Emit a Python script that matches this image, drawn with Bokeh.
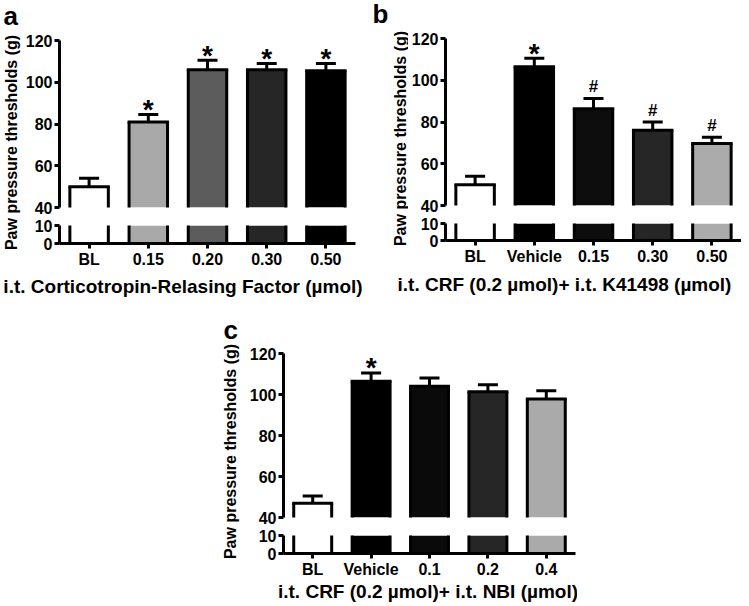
import math
from bokeh.plotting import figure
from bokeh.models import (ColumnDataSource, FactorRange, Range1d, FixedTicker,
                          Whisker, TeeHead, Label, Spacer)
from bokeh.layouts import row, column
from bokeh.transform import dodge
from bokeh.core.properties import value
from bokeh.embed import file_html
from bokeh.resources import INLINE

FONT = "Liberation Sans"

# ---------------- data ----------------
cats_a = ["BL", "0.15", "0.20", "0.30", "0.50"]
vals_a = [50, 81, 106, 106, 105.5]
errs_a = [4, 3.5, 4.5, 3, 3.5]
marks_a = ["", "*", "*", "*", "*"]
colors_a = ["#ffffff", "#a9a9a9", "#5c5c5c", "#262626", "#000000"]
xtitle_a = "i.t. Corticotropin-Relasing Factor (µmol)"

cats_b = ["BL", "Vehicle", "0.15", "0.30", "0.50"]
vals_b = [50, 106.5, 86.3, 76, 69.7]
errs_b = [4, 4, 5, 4, 3]
marks_b = ["", "*", "#", "#", "#"]
colors_b = ["#ffffff", "#000000", "#0d0d0d", "#262626", "#ababab"]
xtitle_b = "i.t. CRF (0.2 µmol)+ i.t. K41498 (µmol)"

cats_c = ["BL", "Vehicle", "0.1", "0.2", "0.4"]
vals_c = [47, 106.5, 104, 101.3, 97.8]
errs_c = [3.5, 4, 4, 3.5, 4]
marks_c = ["", "*", "", "", ""]
colors_c = ["#ffffff", "#000000", "#0a0a0a", "#262626", "#aaaaaa"]
xtitle_c = "i.t. CRF (0.2 µmol)+ i.t. NBI (µmol)"

ylabel = "Paw pressure thresholds (g)"
upper_ticks = [40, 60, 80, 100, 120]
lower_ticks = [0, 10]
upper_lim = (40, 120)
lower_lim = (0, 10)

BAR_W = 0.65
LO_BOTTOM = 26
GAP = 9


def style_axis(ax, size="16px", standoff=2):
    ax.axis_line_width = 3
    ax.axis_line_color = "black"
    ax.major_tick_line_width = 3
    ax.major_tick_line_color = "black"
    ax.major_tick_out = 5
    ax.major_tick_in = 0
    ax.minor_tick_line_color = None
    ax.major_label_text_font = FONT
    ax.major_label_text_font_style = "bold"
    ax.major_label_text_font_size = size
    ax.major_label_text_color = "black"
    ax.major_label_standoff = standoff


def clean(p):
    p.outline_line_color = None
    p.xgrid.visible = False
    p.ygrid.visible = False
    p.background_fill_color = "white"
    p.border_fill_color = "white"


def text_fig(w, h):
    p = figure(width=w, height=h, x_range=Range1d(0, w), y_range=Range1d(0, h),
               x_axis_location=None, y_axis_location=None, min_border=0,
               toolbar_location=None, output_backend="svg")
    p.outline_line_color = None
    p.grid.visible = False
    return p


def bars(p, src):
    p.vbar(x="cats", top="vals", bottom="bot", width=BAR_W, source=src,
           fill_color="colors", line_color=None)
    left = dodge("cats", -BAR_W / 2, range=p.x_range)
    right = dodge("cats", BAR_W / 2, range=p.x_range)
    for side in (left, right):
        p.segment(x0=side, y0="bot", x1=side, y1="vals", source=src,
                  line_color="black", line_width=3)
    p.segment(x0=left, y0="vals", x1=right, y1="vals", source=src,
              line_color="black", line_width=3, line_cap="square")


def panel(cats, vals, errs, marks, colors, xtitle, letter, g):
    src = ColumnDataSource(dict(
        cats=cats, vals=vals, bot=[0] * len(cats), colors=colors,
        hi=[v + e for v, e in zip(vals, errs)]))
    star_idx = [i for i, m in enumerate(marks) if m == "*"]
    hash_idx = [i for i, m in enumerate(marks) if m == "#"]

    uh = g["ut"] + g["uf"] + GAP
    # upper segment
    up = figure(width=g["fw"], height=uh, x_range=FactorRange(*cats),
                y_range=Range1d(*upper_lim), x_axis_location=None,
                toolbar_location=None, output_backend="svg",
                min_border_left=g["bl"], min_border_right=g["br"],
                min_border_top=g["ut"], min_border_bottom=GAP)
    clean(up)
    up.yaxis.ticker = FixedTicker(ticks=upper_ticks)
    style_axis(up.yaxis[0])
    bars(up, src)
    up.add_layout(Whisker(source=src, base="cats", lower="vals", upper="hi",
                          line_color="black", line_width=3, lower_head=None,
                          upper_head=TeeHead(size=20, line_width=3, line_color="black")))
    if star_idx:
        s = ColumnDataSource(dict(x=[cats[i] for i in star_idx],
                                  y=[vals[i] + errs[i] for i in star_idx],
                                  t=["*"] * len(star_idx)))
        up.text(x="x", y="y", text="t", source=s, text_align="center",
                text_baseline="alphabetic", y_offset=-5, text_font=value(FONT),
                text_font_size="28px", text_font_style="bold", text_color="black")
    if hash_idx:
        s = ColumnDataSource(dict(x=[cats[i] for i in hash_idx],
                                  y=[vals[i] + errs[i] for i in hash_idx],
                                  t=["#"] * len(hash_idx)))
        up.text(x="x", y="y", text="t", source=s, text_align="center",
                text_baseline="alphabetic", y_offset=-12, text_font=value(FONT),
                text_font_size="17px", text_font_style="bold", text_color="black")

    # lower segment
    lh_lo = GAP + g["lf"] + LO_BOTTOM
    lo = figure(width=g["fw"], height=lh_lo,
                x_range=FactorRange(*cats), y_range=Range1d(*lower_lim),
                toolbar_location=None, output_backend="svg",
                min_border_left=g["bl"], min_border_right=g["br"],
                min_border_top=GAP, min_border_bottom=LO_BOTTOM)
    clean(lo)
    lo.yaxis.ticker = FixedTicker(ticks=lower_ticks)
    style_axis(lo.yaxis[0])
    style_axis(lo.xaxis[0], standoff=2)
    bars(lo, src)

    # letter + y label
    lh = uh + lh_lo
    lab = text_fig(g["lw"], lh)
    lab.add_layout(Label(x=g["let_x"], y=lh - g["let_b"], text=letter,
                         text_font=FONT, text_font_style="bold",
                         text_font_size="26px", text_align="left",
                         text_baseline="alphabetic", text_color="black"))
    lab.add_layout(Label(x=g["yl_x"], y=lh - g["yl_y"], text=ylabel,
                         angle=math.pi / 2, text_font=FONT, text_font_style="bold",
                         text_font_size="16px", text_align="center",
                         text_baseline="middle", text_color="black"))

    # x title
    tit = text_fig(g["tw"], g["th"])
    tit.add_layout(Label(x=g["tx"], y=g["ty"], text=xtitle, text_font=FONT,
                         text_font_style="bold", text_font_size="19px",
                         text_align="center", text_baseline="middle",
                         text_color="black"))
    return column(row(lab, column(up, lo)), tit)


# a: frame 40..207, lower 225..244, title 270..298
ga = dict(fw=338, ut=40, uf=167, bl=33, br=5, lf=19, lw=22,
          let_x=3, let_b=15, yl_x=11, yl_y=142, tw=366, th=28, tx=182.5, ty=12)
# b: frame 38..205, lower 223..241, title 267..298
gb = dict(fw=333, ut=38, uf=167, bl=33, br=0, lf=18, lw=42,
          let_x=6, let_b=13, yl_x=33.5, yl_y=138, tw=375, th=31, tx=198, ty=14)
# c: frame 353..517, lower 533..552, title 578..606
gc = dict(fw=331, ut=55, uf=164, bl=33, br=2, lf=19, lw=27,
          let_x=4, let_b=31, yl_x=10.5, yl_y=153, tw=358, th=28, tx=208.5, ty=17)

pa = panel(cats_a, vals_a, errs_a, marks_a, colors_a, xtitle_a, "a", ga)
pb = panel(cats_b, vals_b, errs_b, marks_b, colors_b, xtitle_b, "b", gb)
pc = panel(cats_c, vals_c, errs_c, marks_c, colors_c, xtitle_c, "c", gc)

page = column(row(pa, pb),
              row(Spacer(width=219, height=1), pc))

open("out.html", "w").write(file_html(page, INLINE))
